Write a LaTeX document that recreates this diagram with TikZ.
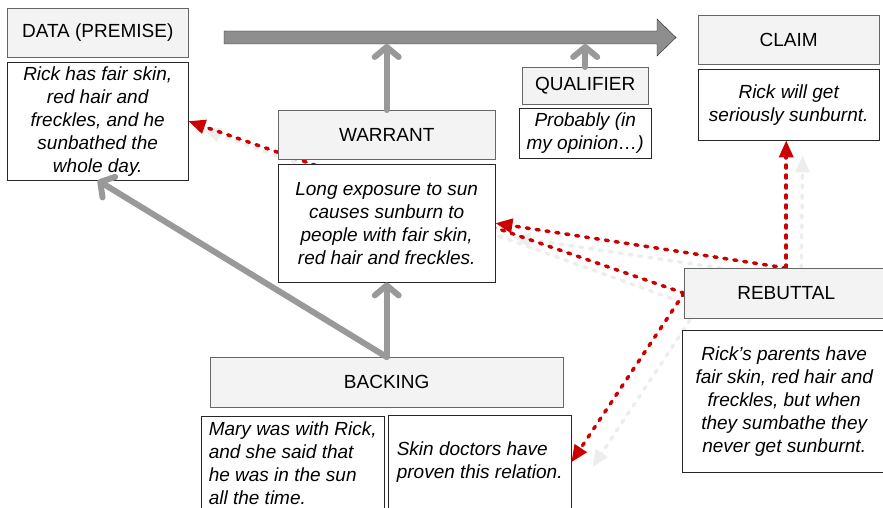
\documentclass[tikz,border=0pt]{standalone}
\usepackage{fontspec}
\setmainfont{Liberation Sans}
\usepackage{xcolor}
\usepackage{tikz}
\usetikzlibrary{arrows.meta,calc,backgrounds}

\definecolor{headfill}{HTML}{F3F3F3}
\definecolor{headline}{HTML}{666666}
\definecolor{linkgray}{HTML}{999999}
\definecolor{rebutred}{HTML}{CC0000}
\definecolor{ghost}{HTML}{EDEDED}
\definecolor{bigarrow}{HTML}{8E8E8E}

\begin{document}
\begin{tikzpicture}[x=1pt, y=-1pt,
    header/.style={draw=headline, fill=headfill, anchor=north west, inner sep=0pt,
        font=\fontsize{19}{23}\selectfont},
    content/.style={draw=black!85, fill=white, anchor=north west, inner sep=0pt, align=center,
        font=\fontsize{19}{23}\selectfont\itshape},
    support/.style={draw=linkgray, line width=6pt, line cap=round,
        -{Straight Barb[length=10pt,width=24pt,line cap=round,line join=round]}},
    attack/.style={draw=rebutred, line width=3.5pt, line cap=round, dash pattern=on 3pt off 7pt,
        -{Triangle[length=17pt,width=14pt]}},
    shadow/.style={attack, draw=ghost}
]
    \useasboundingbox (0,0) rectangle (883,508);
    \clip (0,0) rectangle (883,508);

    % Inference arrow
    \draw[fill=bigarrow, draw=black!85] (224,31) -- (657,31) -- (657,19) -- (676,37.5)
        -- (657,56) -- (657,44) -- (224,44) -- cycle;
    \coordinate (shaft) at (450,44);

    % Data and claim
    \node[header, minimum width=181pt, minimum height=49pt] (data) at (7,8) {DATA (PREMISE)};
    \node[content, minimum width=181pt, minimum height=118pt] (datatext) at (7,62)
        {Rick has fair skin,\\ red hair and\\ freckles, and he\\ sunbathed the\\ whole day.};
    \node[header, minimum width=181pt, minimum height=49pt] (claim) at (698,15) {CLAIM};
    \node[content, minimum width=181pt, minimum height=71pt] (claimtext) at (698,69)
        {Rick will get\\ seriously sunburnt.};

    % Warrant and qualifier
    \node[header, minimum width=217pt, minimum height=49pt] (warrant) at (278,110) {WARRANT};
    \node[content, minimum width=217pt, minimum height=118pt] (warranttext) at (278,164)
        {Long exposure to sun\\ causes sunburn to\\ people with fair skin,\\ red hair and freckles.};
    \node[header, minimum width=126pt, minimum height=37pt] (qualifier) at (522,67) {QUALIFIER};
    \node[content, minimum width=132pt, minimum height=50pt] (qualifiertext) at (519,108)
        {Probably (in\\ my opinion…)};

    % Backing
    \node[header, minimum width=353pt, minimum height=50pt] (backing) at (210,357) {BACKING};
    \node[content, align=left, minimum width=183pt, minimum height=94pt] (marytext) at (201,416)
        {Mary was with Rick,\\ and she said that\\ he was in the sun\\ all the time.};
    \node[content, align=left, minimum width=183pt, minimum height=94pt] (skintext) at (388,415)
        {Skin doctors have\\ proven this relation.};

    % Rebuttal
    \node[header, minimum width=204pt, minimum height=50pt] (rebuttal) at (684,268) {REBUTTAL};
    \node[content, minimum width=204pt, minimum height=142pt] (rebuttaltext) at (682,330)
        {Rick’s parents have\\ fair skin, red hair and\\ freckles, but when\\ they sumbathe they\\ never get sunburnt.};

    % Support links
    \draw[support] (warrant.north) -- (warrant.north |- shaft);
    \draw[support] (qualifier.north) -- (qualifier.north |- shaft);
    \draw[support] (backing.north) -- (warranttext.south);
    \draw[support] (backing.north) -- (datatext.south);

    % Rebuttal links
    \begin{scope}[on background layer]
        \draw[shadow] ($(rebuttal.north)+(15,0)$) -- ($(claimtext.south)+(14,15)$);
        \draw[shadow] ($(rebuttal.north)+(14,12)$) -- ($(warranttext.east)+(18,14)$);
        \draw[shadow] ($(rebuttal.west)+(6,12)$) -- ($(datatext.east)+(15,8)$);
        \draw[shadow] ($(rebuttal.west)+(6,27)$) -- ($(skintext.east)+(21,5)$);
        \draw[attack] (rebuttal.north) -- (rebuttal.north |- claimtext.south);
        \draw[attack] (rebuttal.north) -- (warranttext.east);
        \draw[attack] (rebuttal.west) -- (datatext.east);
        \draw[attack] (rebuttal.west) -- (skintext.east);
    \end{scope}
\end{tikzpicture}
\end{document}
